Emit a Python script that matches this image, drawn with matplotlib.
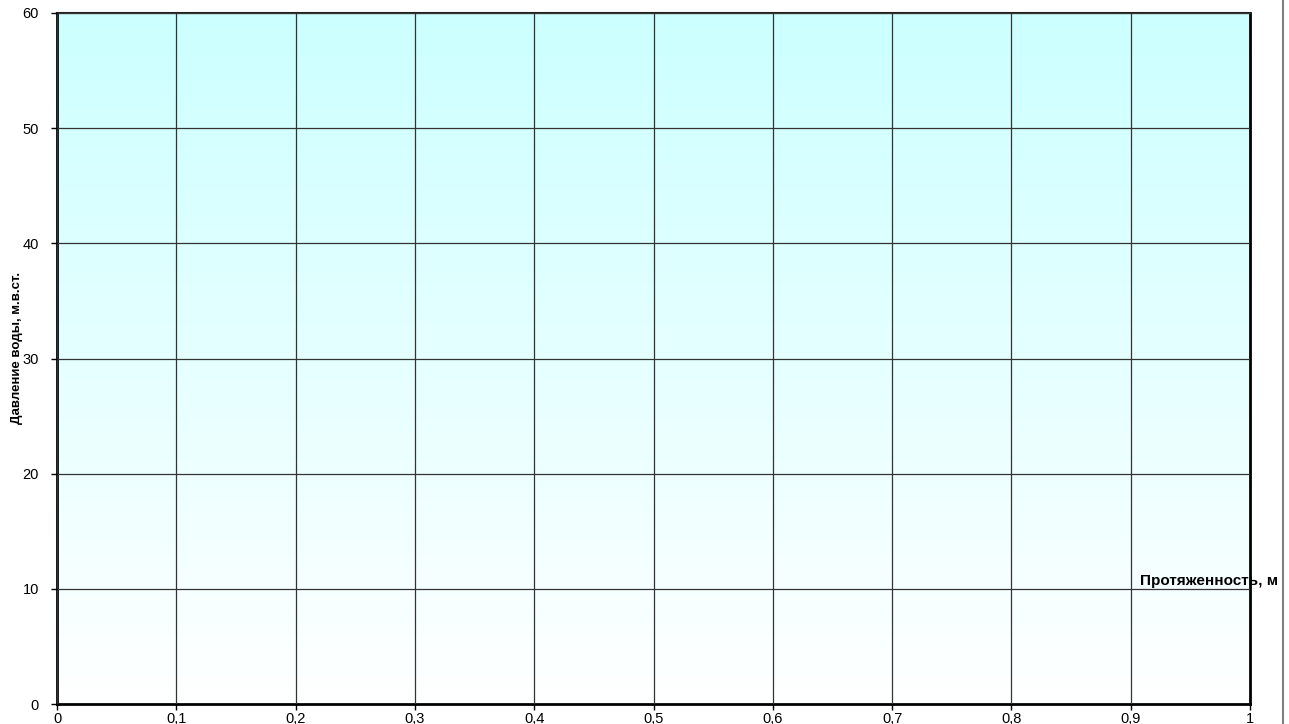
import numpy as np
import matplotlib.pyplot as plt
from matplotlib.colors import LinearSegmentedColormap
from matplotlib.lines import Line2D

# --- data ---
xTicks      = [0, 0.1, 0.2, 0.3, 0.4, 0.5, 0.6, 0.7, 0.8, 0.9, 1]
xTickLabels = ['0', '0,1', '0,2', '0,3', '0,4', '0,5', '0,6', '0,7', '0,8', '0,9', '1']
yTicks      = [0, 10, 20, 30, 40, 50, 60]
xLabel      = 'Протяженность, м'
yLabel      = 'Давление воды, м.в.ст.'

plt.rcParams['font.family'] = ['Liberation Sans', 'DejaVu Sans']

fig = plt.figure(figsize=(12.89, 7.24), dpi=100)
ax = fig.add_axes([57/1289, 20/724, (1250-57)/1289, (704-13)/724])

# gradient background: cyan at top, white at bottom
cmap = LinearSegmentedColormap.from_list('bg', ['#ffffff', '#ccffff'])
grad = np.linspace(0, 1, 256).reshape(-1, 1)
ax.imshow(grad, cmap=cmap, origin='lower', aspect='auto',
          extent=(xTicks[0], xTicks[-1], yTicks[0], yTicks[-1]), zorder=0)

ax.set_xlim(xTicks[0], xTicks[-1])
ax.set_ylim(yTicks[0], yTicks[-1])
ax.set_xticks(xTicks)
ax.set_xticklabels(xTickLabels)
ax.set_yticks(yTicks)
ax.grid(True, color='#333333', linewidth=0.9, zorder=1)
ax.set_axisbelow(False)
ax.tick_params(direction='out', length=4, width=1, labelsize=10.5)
ax.tick_params(axis='y', pad=9)
ax.tick_params(axis='x', pad=2)

for side in ['left', 'bottom', 'right']:
    ax.spines[side].set_linewidth(2.0)
    ax.spines[side].set_color('black')
ax.spines['top'].set_linewidth(1.5)
ax.spines['top'].set_color('#222222')

fig.text(17/1289, 1 - 348/724, yLabel, fontsize=9.5, fontweight='bold',
         rotation=90, ha='center', va='center')
fig.text(1140/1289, 1 - 581/724, xLabel, fontsize=11, fontweight='bold',
         ha='left', va='center')

# gray border line on the right
fig.add_artist(Line2D([1283/1289, 1283/1289], [0, 1], transform=fig.transFigure,
                      color='#808080', linewidth=1.5))

fig.savefig('out.png', dpi=100)
